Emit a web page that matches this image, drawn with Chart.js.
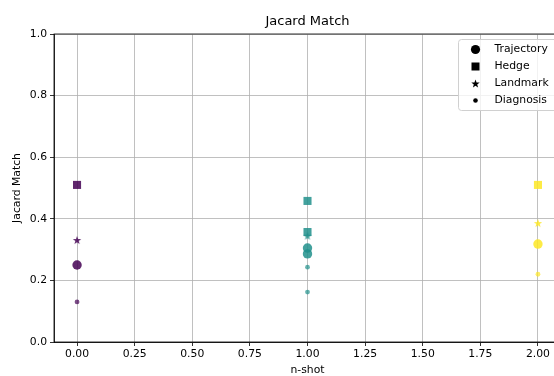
<!DOCTYPE html>
<html><head><meta charset="utf-8">
<script src="https://cdn.jsdelivr.net/npm/chart.js@4"></script>
<style>
html,body{margin:0;padding:0;overflow:hidden;background:#fff;width:554px;height:376px}
#wrap{position:absolute;left:0;top:0;width:580px;height:376px}
</style></head>
<body><div id="wrap"><canvas id="c"></canvas></div>
<script>
// ---- data ----
const nShot = [0, 1, 2];
const chartTitle = 'Jacard Match';
const seriesNames = ['Trajectory', 'Hedge', 'Landmark', 'Diagnosis'];
const trajectoryX = [0, 1, 1, 2];
const trajectoryY = [0.250, 0.305, 0.286, 0.318];
const hedgeX = [0, 1, 1, 2];
const hedgeY = [0.510, 0.458, 0.357, 0.510];
const landmarkX = [0, 1, 2];
const landmarkY = [0.331, 0.345, 0.386];
const diagnosisX = [0, 1, 1, 2];
const diagnosisY = [0.130, 0.243, 0.162, 0.220];
const xTicks = [0, 0.25, 0.5, 0.75, 1, 1.25, 1.5, 1.75, 2];
const yTicks = [0, 0.2, 0.4, 0.6, 0.8, 1.0];

// ---- styles ----
const FONT = "'DejaVu Sans', sans-serif";
const FS = 10.8, TFS = 13;
const viridis = {0: [68, 1, 84], 1: [33, 145, 140], 2: [253, 231, 37]};
function col(x, a) { const c = viridis[x]; return `rgba(${c[0]},${c[1]},${c[2]},${a})`; }
function zip(xs, ys) { return xs.map((x, i) => ({x: x, y: ys[i]})); }

const STAR_R = 4.4, STAR_r = 1.8;
function starPath(ctx, cx, cy, R, r) {
  ctx.beginPath();
  for (let i = 0; i < 10; i++) {
    const rad = i % 2 === 0 ? R : r;
    const ang = -Math.PI / 2 + i * Math.PI / 5;
    const px = cx + rad * Math.cos(ang), py = cy + rad * Math.sin(ang);
    if (i === 0) ctx.moveTo(px, py); else ctx.lineTo(px, py);
  }
  ctx.closePath();
}
function makeStar(fill) {
  const cv = document.createElement('canvas');
  cv.width = 10; cv.height = 10;
  const g = cv.getContext('2d');
  g.fillStyle = fill;
  starPath(g, 5, 5.4, STAR_R, STAR_r);
  g.fill();
  return cv;
}
const starImgs = {};
nShot.forEach(x => { starImgs[x] = makeStar(col(x, 0.85)); });

const frameAndLegend = {
  id: 'frameAndLegend',
  afterDraw(chart) {
    const ctx = chart.ctx, a = chart.chartArea;
    ctx.save();
    ctx.strokeStyle = '#000'; ctx.lineWidth = 0.8;
    ctx.strokeRect(a.left, a.top, a.right - a.left, a.bottom - a.top);
    // title centred over the axes
    ctx.fillStyle = '#000';
    ctx.font = TFS + 'px ' + FONT;
    ctx.textAlign = 'center'; ctx.textBaseline = 'middle';
    ctx.fillText(chartTitle, (a.left + a.right) / 2, 21.5);
    // legend box
    const bx = 458.5, by = 39.5, bw = 130, bh = 71;
    ctx.beginPath();
    ctx.roundRect(bx, by, bw, bh, 3);
    ctx.fillStyle = 'rgba(255,255,255,0.8)';
    ctx.fill();
    ctx.strokeStyle = '#d0d0d0'; ctx.lineWidth = 1;
    ctx.stroke();
    const rows = [49.5, 66.5, 83.5, 100.5];
    const mx = 475.5;
    ctx.fillStyle = '#000';
    ctx.beginPath(); ctx.arc(mx, rows[0], 4.6, 0, Math.PI * 2); ctx.fill();
    ctx.fillRect(mx - 4, rows[1] - 4, 8, 8);
    starPath(ctx, mx, rows[2] + 0.4, STAR_R, STAR_r); ctx.fill();
    ctx.beginPath(); ctx.arc(mx, rows[3], 2.3, 0, Math.PI * 2); ctx.fill();
    ctx.font = FS + 'px ' + FONT;
    ctx.textAlign = 'left';
    seriesNames.forEach((n, i) => ctx.fillText(n, 494.5, rows[i]));
    ctx.restore();
  }
};

new Chart(document.getElementById('c'), {
  type: 'scatter',
  data: {
    datasets: [
      {label: seriesNames[0], data: zip(trajectoryX, trajectoryY), pointStyle: 'circle', pointRadius: 4.7,
       backgroundColor: c => col(c.raw.x, 0.85), borderWidth: 0},
      {label: seriesNames[1], data: zip(hedgeX, hedgeY), pointStyle: 'rect', pointRadius: 5.7,
       backgroundColor: c => col(c.raw.x, 0.85), borderWidth: 0},
      {label: seriesNames[2], data: zip(landmarkX, landmarkY), pointStyle: c => starImgs[c.raw.x],
       backgroundColor: c => col(c.raw.x, 0.85), borderWidth: 0},
      {label: seriesNames[3], data: zip(diagnosisX, diagnosisY), pointStyle: 'circle', pointRadius: 2.4,
       backgroundColor: c => col(c.raw.x, 0.7), borderWidth: 0}
    ]
  },
  options: {
    responsive: true, maintainAspectRatio: false, animation: false, events: [],
    layout: {padding: {left: 0, right: 19, top: 34, bottom: 0}},
    plugins: {
      legend: {display: false}, tooltip: {enabled: false}, title: {display: false}
    },
    scales: {
      x: {
        type: 'linear', min: -0.1, max: 2.1,
        afterBuildTicks: s => { s.ticks = xTicks.map(v => ({value: v})); },
        afterFit: s => { s.height = 34; },
        ticks: {color: '#000', font: {family: FONT, size: FS}, padding: 2, maxRotation: 0,
                callback: v => Number(v).toFixed(2)},
        grid: {color: '#b0b0b0', lineWidth: 0.8, tickColor: '#000', tickLength: 4, drawTicks: true},
        border: {display: true, color: '#000', width: 0.8},
        title: {display: true, text: 'n-shot', color: '#000', font: {family: FONT, size: FS}, padding: {top: 0, bottom: -1}}
      },
      y: {
        type: 'linear', min: 0, max: 1,
        afterBuildTicks: s => { s.ticks = yTicks.map(v => ({value: v})); },
        afterFit: s => { s.width = 54; },
        ticks: {color: '#000', font: {family: FONT, size: FS}, padding: 3,
                callback: v => Number(v).toFixed(1)},
        grid: {color: '#b0b0b0', lineWidth: 0.8, tickColor: '#000', tickLength: 4, drawTicks: true},
        border: {display: true, color: '#000', width: 0.8},
        title: {display: true, text: 'Jacard Match', color: '#000', font: {family: FONT, size: FS}, padding: {top: 11, bottom: 0}}
      }
    }
  },
  plugins: [frameAndLegend]
});
</script>
</body></html>
